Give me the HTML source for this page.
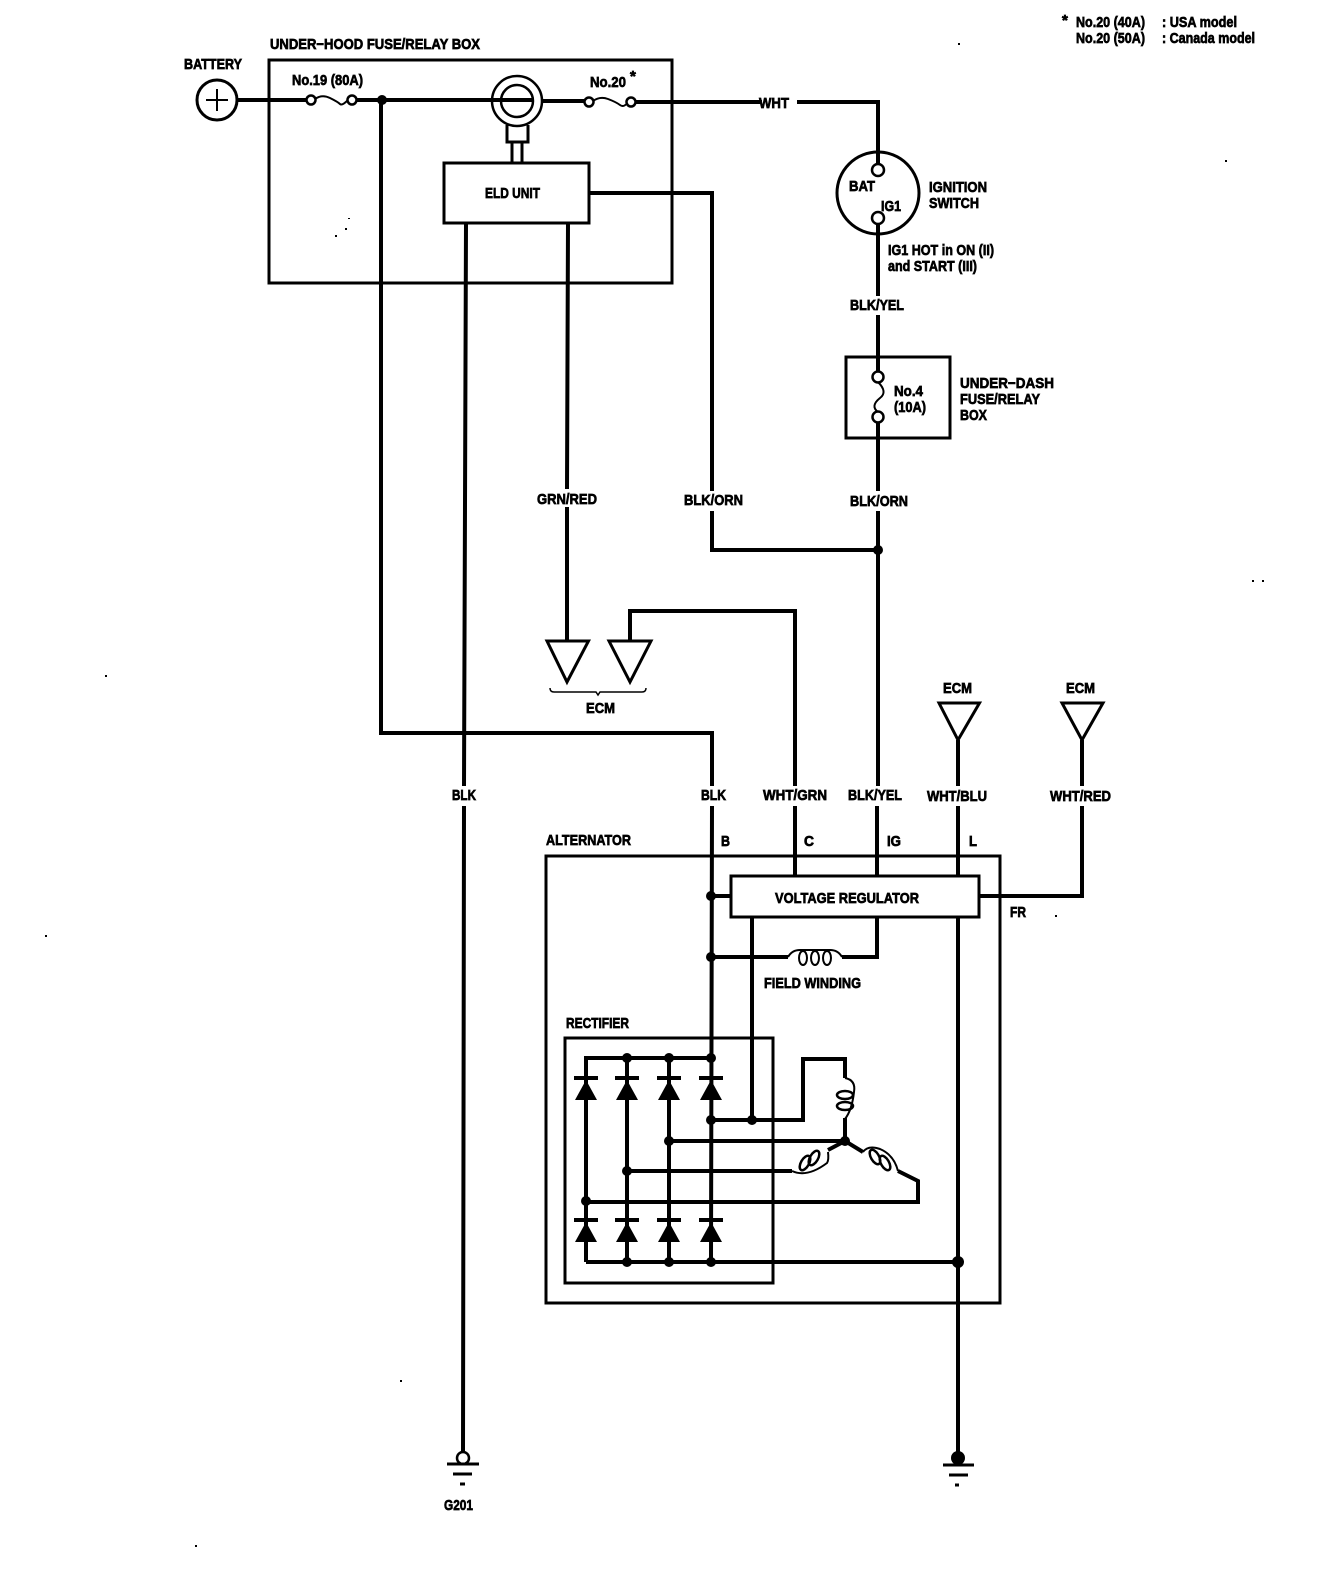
<!DOCTYPE html>
<html><head><meta charset="utf-8"><style>
html,body{margin:0;padding:0;background:#fff}
svg{display:block}
text{font-family:"Liberation Sans",sans-serif;font-weight:bold;font-size:15px;fill:#000;stroke:#000;stroke-width:.7}
.w{fill:none;stroke:#000;stroke-width:4;stroke-linejoin:miter}
.b{fill:none;stroke:#000;stroke-width:3}
.t{fill:none;stroke:#000;stroke-width:2}
.c{fill:#fff;stroke:#000;stroke-width:2.5}
.d{fill:#000;stroke:none}
</style></head><body>
<svg xmlns="http://www.w3.org/2000/svg" width="1328" height="1584" viewBox="0 0 1328 1584">
<rect width="1328" height="1584" fill="#fff"/>
<!-- boxes -->
<rect class="b" x="269" y="60" width="403" height="223"/>
<rect class="b" x="444" y="163" width="145" height="60"/>
<rect class="b" x="846" y="357" width="104" height="81"/>
<rect class="b" x="546" y="856" width="454" height="447"/>
<rect class="b" x="731" y="876" width="248" height="41"/>
<rect class="b" x="565" y="1038" width="208" height="245"/>
<!-- battery -->
<circle cx="217" cy="100" r="20" fill="none" stroke="#000" stroke-width="3"/>
<path d="M206 100H228M217 89V111" class="t"/>
<!-- main line -->
<path class="w" d="M237 100H307"/>
<path class="t" d="M315 99Q322 94 330 98T340 104T348 100"/>
<circle class="c" cx="311" cy="100" r="4.5"/><circle class="c" cx="352" cy="100" r="4.5"/>
<path class="w" d="M356 100H533"/>
<circle cx="517" cy="101" r="25" fill="none" stroke="#000" stroke-width="2.5"/>
<circle cx="517" cy="101" r="16" fill="none" stroke="#000" stroke-width="2.5"/>
<path class="b" d="M507 125V142H528V125M512 142V163M522 142V163"/>
<path class="w" d="M542 101H585"/>
<path class="t" d="M593 101Q600 96 608 99T620 105T628 102"/>
<circle class="c" cx="589" cy="102" r="4.5"/><circle class="c" cx="631" cy="102" r="4.5"/>
<path class="w" d="M635 102H762M797 102H878V164"/>
<circle class="d" cx="382" cy="100" r="5"/>
<!-- battery bus to alternator -->
<path class="w" d="M381 100V733H712V786M712 806L711 1262"/>
<!-- ELD outputs -->
<path class="w" d="M466 223L464 786M464 806L463 1452"/>
<path class="w" d="M568 222L567 489M567 507V641"/>
<path class="w" d="M589 193H712V491M712 511V550H878"/>
<circle class="d" cx="878" cy="550" r="5"/>
<!-- ignition -->
<circle cx="878" cy="193" r="41" fill="none" stroke="#000" stroke-width="3"/>
<circle class="c" cx="878" cy="170" r="6"/><circle class="c" cx="878" cy="218" r="6"/>
<path class="w" d="M878 224V296M878 315V372"/>
<path class="t" d="M878 382Q888 392 880 398Q870 406 878 412"/>
<circle class="c" cx="878" cy="377" r="5.5"/><circle class="c" cx="878" cy="417" r="5.5"/>
<path class="w" d="M878 423V491M878 511V786M877 806V876"/>
<!-- ECM triangles -->
<path class="b" d="M547 641H588.500L567 682Z"/>
<path class="b" d="M609 641H651L630 682Z"/>
<path class="b" d="M939 703H979.500L958 740Z"/>
<path class="b" d="M1062 703H1103L1082 740Z"/>
<path class="w" d="M630 641V611H795V786M795 806V876"/>
<path class="w" d="M958 740V786M958 806V876M958 917V1452"/>
<path class="w" d="M1082 740V786M1082 806V896H979"/>
<path class="t" style="stroke-width:1.500" d="M550 688Q550 692 554 692H596L598 695L600 692H642Q646 692 646 688"/>
<!-- regulator links -->
<path class="w" d="M711 896H731"/><circle class="d" cx="711" cy="896" r="5"/>
<path class="w" d="M877 917V957H842M788 957H711"/><circle class="d" cx="711" cy="957" r="5"/>
<path class="t" d="M788 957Q792 950 800 950H830Q838 950 842 957"/>
<ellipse class="t" cx="803" cy="958" rx="4" ry="7"/><ellipse class="t" cx="815" cy="958" rx="4" ry="7"/><ellipse class="t" cx="827" cy="958" rx="4" ry="7"/>
<path class="w" d="M752 917V1120"/>
<!-- rectifier wires -->
<path class="w" d="M586 1262V1058H711"/>
<path class="w" d="M627 1058V1262M669 1058V1262M586 1262H958"/>
<path class="w" d="M711 1120H803V1059H845V1078"/>
<path class="w" d="M845 1118V1141H669"/>
<path class="w" d="M845 1141L828 1150M845 1141L863 1152"/>
<path class="w" d="M792 1171H627"/>
<path class="w" d="M898 1171L918 1181V1202H586"/>
<path class="t" d="M845 1078Q856 1080 854 1092Q852 1110 845 1119"/>
<ellipse cx="845" cy="1095" rx="8" ry="4" fill="none" stroke="#000" stroke-width="2.500"/><ellipse cx="845" cy="1106" rx="8" ry="4" fill="none" stroke="#000" stroke-width="2.500"/>
<path class="t" d="M792 1171Q807 1178 827 1163Q829 1160 828 1152"/>
<ellipse cx="805" cy="1163" rx="8" ry="4" transform="rotate(-60 805 1163)" fill="none" stroke="#000" stroke-width="2.500"/><ellipse cx="814" cy="1158" rx="8" ry="4" transform="rotate(-60 814 1158)" fill="none" stroke="#000" stroke-width="2.500"/>
<path class="t" d="M863 1152Q868 1145 880 1149Q894 1155 898 1171"/>
<ellipse cx="875" cy="1157" rx="8" ry="4" transform="rotate(60 875 1157)" fill="none" stroke="#000" stroke-width="2.500"/><ellipse cx="885" cy="1163" rx="8" ry="4" transform="rotate(60 885 1163)" fill="none" stroke="#000" stroke-width="2.500"/>
<!-- diodes -->
<g fill="#000" stroke="none">
<path d="M574 1076h24v4h-24zM615 1076h24v4h-24zM657 1076h24v4h-24zM699 1076h24v4h-24z"/>
<path d="M586 1080L597 1100H575ZM627 1080L638 1100H616ZM669 1080L680 1100H658ZM711 1080L722 1100H700Z"/>
<path d="M574 1218h24v4h-24zM615 1218h24v4h-24zM657 1218h24v4h-24zM699 1218h24v4h-24z"/>
<path d="M586 1222L597 1242H575ZM627 1222L638 1242H616ZM669 1222L680 1242H658ZM711 1222L722 1242H700Z"/>
<circle cx="627" cy="1058" r="5"/><circle cx="669" cy="1058" r="5"/><circle cx="711" cy="1058" r="5"/>
<circle cx="711" cy="1120" r="5"/><circle cx="752" cy="1120" r="5"/>
<circle cx="669" cy="1141" r="5"/><circle cx="845" cy="1141" r="5"/>
<circle cx="627" cy="1171" r="5"/><circle cx="586" cy="1201" r="5"/>
<circle cx="627" cy="1262" r="5"/><circle cx="669" cy="1262" r="5"/><circle cx="711" cy="1262" r="5"/>
<circle cx="958" cy="1262" r="6"/>
</g>
<!-- grounds -->
<circle cx="463" cy="1458" r="6" fill="#fff" stroke="#000" stroke-width="2.500"/>
<path class="b" d="M447 1464H479M453 1474H472M460 1484H465"/>
<circle class="d" cx="958" cy="1458" r="7"/>
<path class="b" d="M943 1465H974M949 1475H968M955 1485H959"/>
<!-- labels -->
<g transform="translate(0,-1)">
<text x="184" y="70" textLength="58" lengthAdjust="spacingAndGlyphs">BATTERY</text>
<text x="270" y="50" textLength="210" lengthAdjust="spacingAndGlyphs">UNDER−HOOD FUSE/RELAY BOX</text>
<text x="292" y="86" textLength="71" lengthAdjust="spacingAndGlyphs">No.19 (80A)</text>
<text x="590" y="88" textLength="36" lengthAdjust="spacingAndGlyphs">No.20</text>
<text x="630" y="82" font-size="12">*</text>
<text x="485" y="199" textLength="55" lengthAdjust="spacingAndGlyphs">ELD UNIT</text>
<text x="759" y="109" textLength="30" lengthAdjust="spacingAndGlyphs">WHT</text>
<text x="849" y="192" textLength="26" lengthAdjust="spacingAndGlyphs">BAT</text>
<text x="881" y="212" textLength="20" lengthAdjust="spacingAndGlyphs">IG1</text>
<text x="929" y="193" textLength="58" lengthAdjust="spacingAndGlyphs">IGNITION</text>
<text x="929" y="209" textLength="50" lengthAdjust="spacingAndGlyphs">SWITCH</text>
<text x="888" y="256" textLength="106" lengthAdjust="spacingAndGlyphs">IG1 HOT in ON (II)</text>
<text x="888" y="272" textLength="89" lengthAdjust="spacingAndGlyphs">and START (III)</text>
<text x="850" y="311" textLength="54" lengthAdjust="spacingAndGlyphs">BLK/YEL</text>
<text x="894" y="397" textLength="29" lengthAdjust="spacingAndGlyphs">No.4</text>
<text x="894" y="413" textLength="32" lengthAdjust="spacingAndGlyphs">(10A)</text>
<text x="960" y="389" textLength="94" lengthAdjust="spacingAndGlyphs">UNDER−DASH</text>
<text x="960" y="405" textLength="80" lengthAdjust="spacingAndGlyphs">FUSE/RELAY</text>
<text x="960" y="421" textLength="27" lengthAdjust="spacingAndGlyphs">BOX</text>
<text x="537" y="505" textLength="60" lengthAdjust="spacingAndGlyphs">GRN/RED</text>
<text x="684" y="506" textLength="59" lengthAdjust="spacingAndGlyphs">BLK/ORN</text>
<text x="850" y="507" textLength="58" lengthAdjust="spacingAndGlyphs">BLK/ORN</text>
<text x="586" y="714" textLength="29" lengthAdjust="spacingAndGlyphs">ECM</text>
<text x="943" y="694" textLength="29" lengthAdjust="spacingAndGlyphs">ECM</text>
<text x="1066" y="694" textLength="29" lengthAdjust="spacingAndGlyphs">ECM</text>
<text x="452" y="801" textLength="24" lengthAdjust="spacingAndGlyphs">BLK</text>
<text x="701" y="801" textLength="25" lengthAdjust="spacingAndGlyphs">BLK</text>
<text x="763" y="801" textLength="64" lengthAdjust="spacingAndGlyphs">WHT/GRN</text>
<text x="848" y="801" textLength="54" lengthAdjust="spacingAndGlyphs">BLK/YEL</text>
<text x="927" y="802" textLength="60" lengthAdjust="spacingAndGlyphs">WHT/BLU</text>
<text x="1050" y="802" textLength="61" lengthAdjust="spacingAndGlyphs">WHT/RED</text>
<text x="546" y="846" textLength="85" lengthAdjust="spacingAndGlyphs">ALTERNATOR</text>
<text x="721" y="847" textLength="9" lengthAdjust="spacingAndGlyphs">B</text>
<text x="804" y="847" textLength="10" lengthAdjust="spacingAndGlyphs">C</text>
<text x="887" y="847" textLength="14" lengthAdjust="spacingAndGlyphs">IG</text>
<text x="969" y="847" textLength="8" lengthAdjust="spacingAndGlyphs">L</text>
<text x="775" y="904" textLength="144" lengthAdjust="spacingAndGlyphs">VOLTAGE REGULATOR</text>
<text x="1010" y="918" textLength="16" lengthAdjust="spacingAndGlyphs">FR</text>
<text x="764" y="989" textLength="97" lengthAdjust="spacingAndGlyphs">FIELD WINDING</text>
<text x="566" y="1029" textLength="63" lengthAdjust="spacingAndGlyphs">RECTIFIER</text>
<text x="444" y="1511" textLength="29" lengthAdjust="spacingAndGlyphs">G201</text>
<text x="1062" y="26" font-size="12">*</text>
<text x="1076" y="28" textLength="69" lengthAdjust="spacingAndGlyphs">No.20 (40A)</text>
<text x="1162" y="28" textLength="75" lengthAdjust="spacingAndGlyphs">: USA model</text>
<text x="1076" y="44" textLength="69" lengthAdjust="spacingAndGlyphs">No.20 (50A)</text>
<text x="1162" y="44" textLength="93" lengthAdjust="spacingAndGlyphs">: Canada model</text>
</g>
<!-- speckles -->
<g fill="#000">
<rect x="958" y="43" width="2" height="2"/><rect x="1252" y="580" width="2" height="2"/><rect x="1262" y="580" width="2" height="2"/>
<rect x="348" y="218" width="2" height="1"/><rect x="335" y="235" width="2" height="2"/><rect x="345" y="228" width="2" height="2"/>
<rect x="1225" y="160" width="2" height="2"/><rect x="105" y="675" width="2" height="2"/><rect x="45" y="935" width="2" height="2"/>
<rect x="400" y="1380" width="2" height="2"/><rect x="1055" y="915" width="2" height="2"/><rect x="195" y="1545" width="2" height="2"/>
</g>
</svg>
</body></html>
